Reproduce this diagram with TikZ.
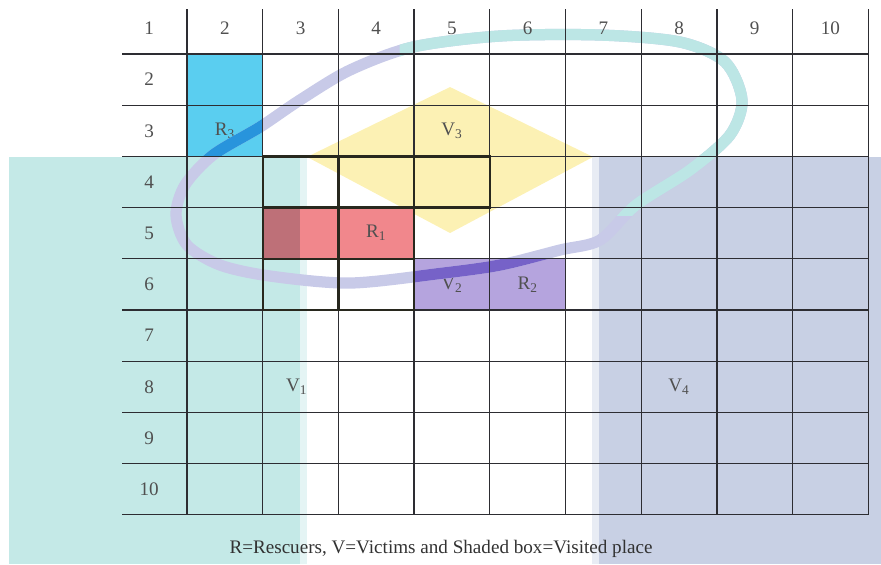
\documentclass[tikz,border=0pt]{standalone}
\usepackage{fontspec}
\setmainfont{Liberation Serif}
\newcommand\searchloop{plot[smooth cycle] coordinates {(1.844,3.473) (1.473,4.059) (1.355,4.645) (1.500,5.230) (1.936,5.621) (2.597,5.836) (3.654,5.973) (4.843,5.786) (5.636,5.621) (6.428,5.328) (6.957,5.133) (7.430,4.450) (8.145,3.766) (8.673,3.082) (8.832,2.398) (8.608,1.656) (8.014,1.266) (6.957,1.129) (5.636,1.148) (4.486,1.363) (3.654,1.813) (2.993,2.398) (2.465,2.926)}}
\begin{document}
\begin{tikzpicture}[x={(1.8925cm,0cm)},y={(0cm,-1.28cm)},
  every node/.style={font=\fontsize{13.6}{16}\selectfont, text={rgb,255:red,80;green,80;blue,80}, inner sep=0pt, outer sep=0pt},
  cell/.style={minimum width=1.8925cm, minimum height=1.28cm},
  gridline/.style={draw={rgb,255:red,45;green,45;blue,50}, line width=0.9pt},
  heavy/.style={draw={rgb,255:red,40;green,40;blue,30}, line width=1.6pt},
  trail/.style={line width=8pt, line cap=round}]
\useasboundingbox (-0.970,0.445) rectangle (10.668,11.461);
% visited areas
\fill[fill={rgb,255:red,196;green,233;blue,231}] (-0.851,3.512) rectangle (2.993,11.461);
\fill[fill={rgb,255:red,228;green,244;blue,244}] (2.993,3.512) rectangle (3.085,11.461);
\fill[fill={rgb,255:red,232;green,236;blue,244}] (6.851,3.512) rectangle (6.943,11.461);
\fill[fill={rgb,255:red,200;green,208;blue,228}] (6.943,3.512) rectangle (10.668,11.461);
\fill[fill={rgb,255:red,252;green,241;blue,180}] (3.086,3.51) -- (4.975,2.145) -- (6.864,3.51) -- (4.975,4.996) -- cycle;
% rescuers and victims
\node[cell,fill={rgb,255:red,90;green,206;blue,240}] (blue2) at (2,2) {};
\node[cell,fill={rgb,255:red,90;green,206;blue,240}] (resc3) at (2,3) {R\textsubscript{3}};
\node[cell,fill={rgb,255:red,241;green,135;blue,140}] (red3) at (3,5) {};
\node[cell,fill={rgb,255:red,241;green,135;blue,140}] (resc1) at (4,5) {R\textsubscript{1}};
\node[cell,fill={rgb,255:red,181;green,164;blue,222}] (vict2) at (5,6) {V\textsubscript{2}};
\node[cell,fill={rgb,255:red,181;green,164;blue,222}] (resc2) at (6,6) {R\textsubscript{2}};
\fill[fill={rgb,255:red,190;green,112;blue,120}] (2.5,4.5) rectangle (2.993,5.5);
% search path
\draw[trail,draw={rgb,255:red,200;green,202;blue,232}] \searchloop;
\begin{scope}
\clip (4.31,0.445) rectangle (10.668,4.645);
\draw[trail,draw={rgb,255:red,188;green,230;blue,229}] \searchloop;
\end{scope}
\begin{scope}
\clip (1.5,2.5) rectangle (2.5,3.5);
\draw[trail,draw={rgb,255:red,40;green,148;blue,220}] \searchloop;
\end{scope}
\begin{scope}
\clip (4.5,5.5) rectangle (6.5,6.5);
\draw[trail,draw={rgb,255:red,118;green,98;blue,200}] \searchloop;
\end{scope}
% grid
\draw[gridline,xstep=1.8925cm,ystep=100cm,shift={(0.5,0)}] (0.98,0.63) grid (10.02,10.5);
\draw[gridline,xstep=100cm,ystep=1.28cm,shift={(0,0.5)}] (0.642,0.98) grid (10.5,10.02);
\draw[heavy] (2.5,3.5) rectangle (5.5,4.5) (3.5,3.5) -- (3.5,4.5) (4.5,3.5) -- (4.5,4.5);
\draw[heavy] (2.5,4.5) rectangle (4.5,6.5) (3.5,4.5) -- (3.5,6.5) (2.5,5.5) -- (4.5,5.5);
% labels
\node (hdr1) at (1,1) {1};
\node (hdr2) at (2,1) {2};
\node (hdr3) at (3,1) {3};
\node (hdr4) at (4,1) {4};
\node (hdr5) at (5,1) {5};
\node (hdr6) at (6,1) {6};
\node (hdr7) at (7,1) {7};
\node (hdr8) at (8,1) {8};
\node (hdr9) at (9,1) {9};
\node (hdr10) at (10,1) {10};
\node (row2) at (1,2) {2};
\node (row3) at (1,3) {3};
\node (row4) at (1,4) {4};
\node (row5) at (1,5) {5};
\node (row6) at (1,6) {6};
\node (row7) at (1,7) {7};
\node (row8) at (1,8) {8};
\node (row9) at (1,9) {9};
\node (row10) at (1,10) {10};
\node (vict3) at (5,3) {V\textsubscript{3}};
\node (vict1) at (2.95,8) {V\textsubscript{1}};
\node (vict4) at (8,8) {V\textsubscript{4}};
\node[text={rgb,255:red,50;green,50;blue,50}] (legend) at (4.856,11.17) {R=Rescuers, V=Victims and Shaded box=Visited place};
\end{tikzpicture}
\end{document}
